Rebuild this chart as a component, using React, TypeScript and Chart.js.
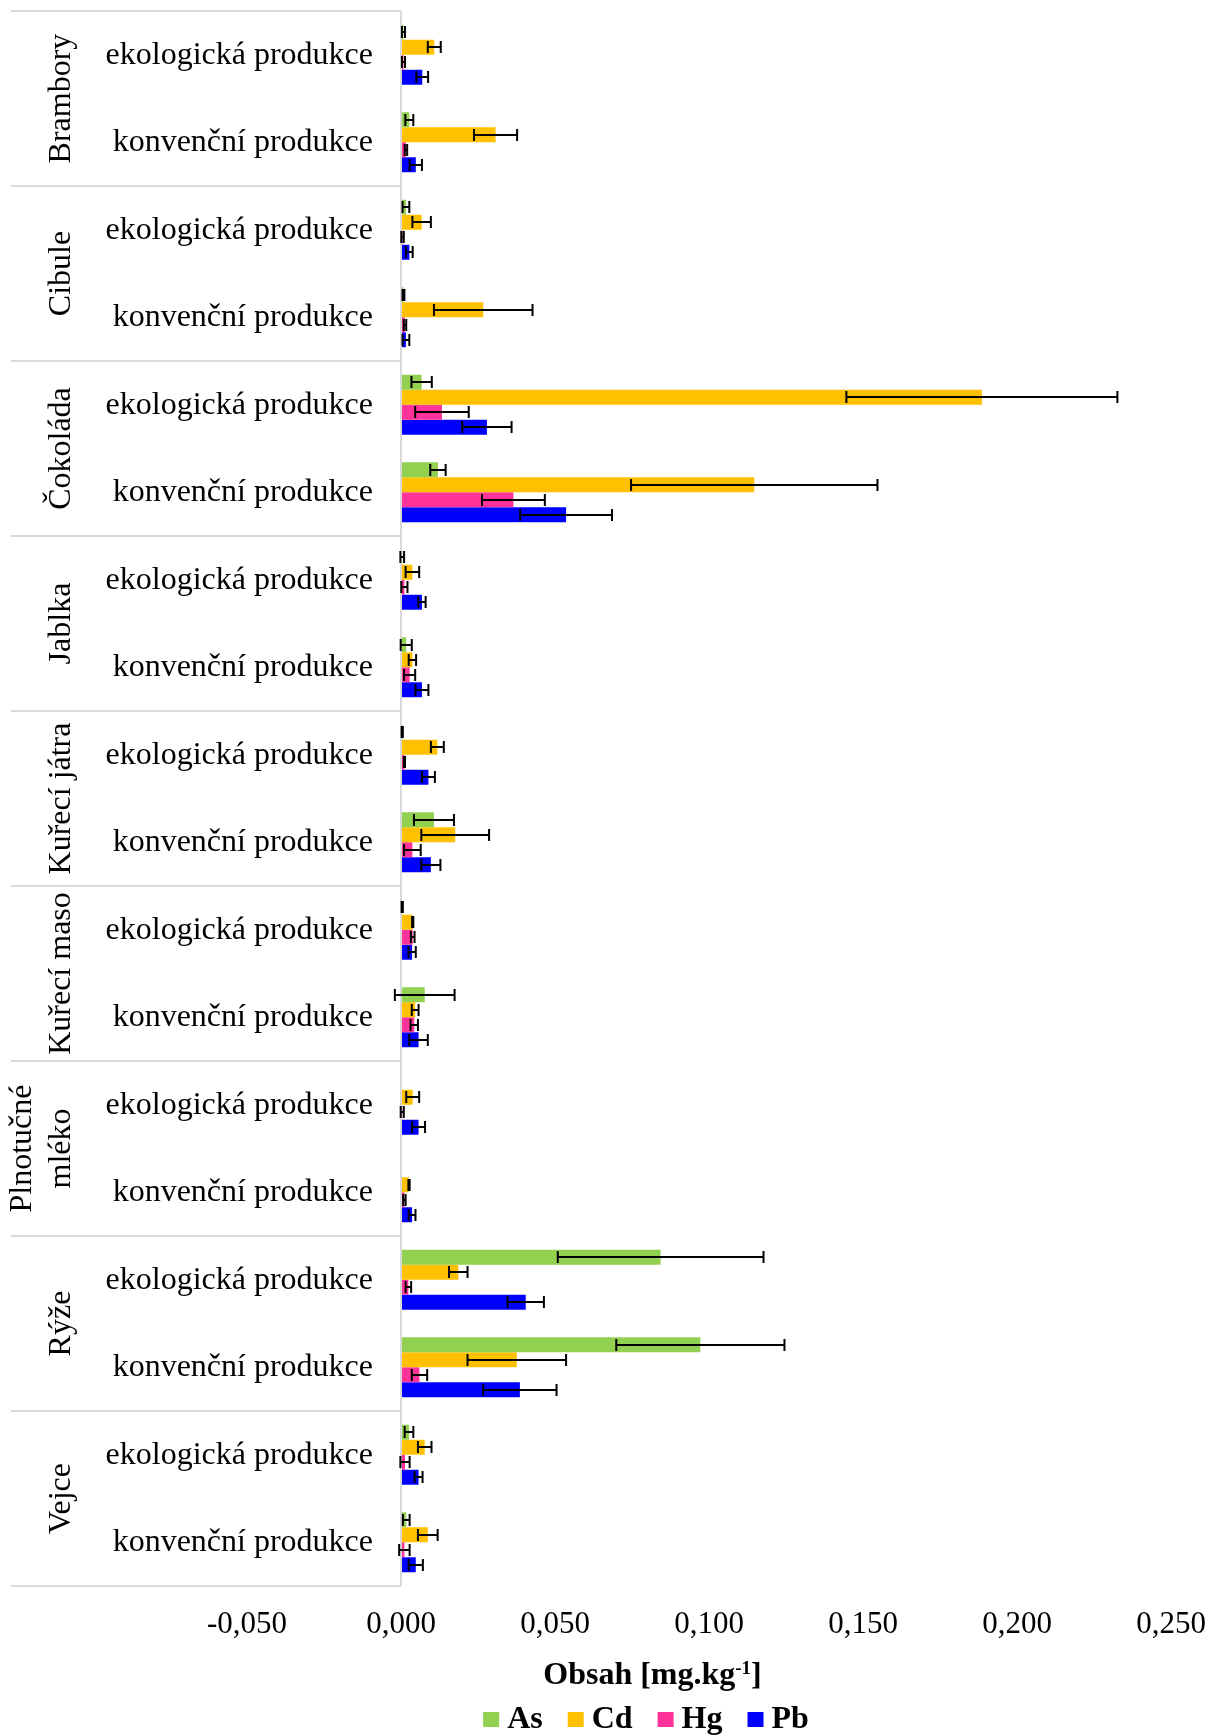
import React, { useEffect, useRef } from 'react';
import { Chart, registerables } from 'chart.js';

Chart.register(...registerables);

const FONT = '"Liberation Serif", "Times New Roman", serif';

// ---- data ----
const groups = ['Brambory', 'Cibule', 'Čokoláda', 'Jablka', 'Kuřecí játra', 'Kuřecí maso', 'Plnotučné mléko', 'Rýže', 'Vejce'];
const productionTypes = ['ekologická produkce', 'konvenční produkce'];
const seriesNames = ['As', 'Cd', 'Hg', 'Pb'];
const seriesColors = ['#92D050', '#FFC000', '#FF3399', '#0000FF'];
const tickValues = [-0.05, 0, 0.05, 0.1, 0.15, 0.2, 0.25];
const axisTitle = 'Obsah [mg.kg';
const axisTitleSup = '-1';
const axisTitleEnd = ']';

// order: each group -> [ekologická, konvenční]
const asValues = [0.0008, 0.0027, 0.0016, 0.0008, 0.0067, 0.0120, 0.0004, 0.0017, 0.0004, 0.0107, 0.0004, 0.0077, 0, 0, 0.0843, 0.0972, 0.0026, 0.0017];
const asErrors = [0.0005, 0.0013, 0.0011, 0.0003, 0.0033, 0.0025, 0.0006, 0.0018, 0.0002, 0.0065, 0.0002, 0.0097, 0, 0, 0.0334, 0.0273, 0.0014, 0.0011];
const cdValues = [0.0108, 0.0307, 0.0067, 0.0267, 0.1886, 0.1147, 0.0037, 0.0037, 0.0118, 0.0176, 0.0038, 0.0046, 0.0038, 0.0026, 0.0186, 0.0376, 0.0077, 0.0087];
const cdErrors = [0.0021, 0.0070, 0.0030, 0.0160, 0.0440, 0.0400, 0.0022, 0.0012, 0.0021, 0.0110, 0.0002, 0.0011, 0.0021, 0.0002, 0.0030, 0.0160, 0.0022, 0.0032];
const hgValues = [0.0008, 0.0016, 0.0005, 0.0013, 0.0133, 0.0365, 0.0011, 0.0028, 0.0011, 0.0037, 0.0038, 0.0043, 0.0004, 0.0011, 0.0024, 0.0060, 0.0013, 0.0011];
const hgErrors = [0.0005, 0.0004, 0.0004, 0.0004, 0.0087, 0.0102, 0.0010, 0.0018, 0.0002, 0.0027, 0.0006, 0.0012, 0.0005, 0.0004, 0.0009, 0.0025, 0.0015, 0.0017];
const pbValues = [0.0069, 0.0048, 0.0027, 0.0016, 0.0279, 0.0536, 0.0068, 0.0068, 0.0089, 0.0097, 0.0036, 0.0057, 0.0057, 0.0036, 0.0405, 0.0386, 0.0057, 0.0048];
const pbErrors = [0.0019, 0.0020, 0.0011, 0.0011, 0.0080, 0.0149, 0.0012, 0.0021, 0.0021, 0.0031, 0.0012, 0.0030, 0.0021, 0.0011, 0.0059, 0.0119, 0.0013, 0.0023];

const seriesValues = [asValues, cdValues, hgValues, pbValues];
const seriesErrors = [asErrors, cdErrors, hgErrors, pbErrors];

const categoryLabels: string[] = [];
groups.forEach((g) => productionTypes.forEach((p) => categoryLabels.push(g + ' – ' + p)));

const fmt = (v: number) => v.toFixed(3).replace('.', ',');

const overlayPlugin = {
  id: 'overlay',
  afterDatasetsDraw(chart: any) {
    const ctx = chart.ctx;
    const xs = chart.scales.x;
    ctx.save();
    ctx.strokeStyle = '#000';
    ctx.lineWidth = 2;
    chart.data.datasets.forEach((ds: any, i: number) => {
      const meta = chart.getDatasetMeta(i);
      meta.data.forEach((bar: any, j: number) => {
        const v = ds.data[j];
        const e = seriesErrors[i][j];
        if (!e) return;
        const y = Math.round(bar.y);
        const x1 = xs.getPixelForValue(v - e);
        const x2 = xs.getPixelForValue(v + e);
        ctx.beginPath();
        ctx.moveTo(x1, y);
        ctx.lineTo(x2, y);
        ctx.moveTo(x1, y - 6);
        ctx.lineTo(x1, y + 6);
        ctx.moveTo(x2, y - 6);
        ctx.lineTo(x2, y + 6);
        ctx.stroke();
      });
    });
    ctx.restore();
  },
  afterDraw(chart: any) {
    const ctx = chart.ctx;
    const xs = chart.scales.x;
    const ys = chart.scales.y;
    const area = chart.chartArea;
    const x0 = xs.getPixelForValue(0);
    const frameLeft = 11;
    ctx.save();

    // frame lines between groups
    ctx.strokeStyle = '#d9d9d9';
    ctx.lineWidth = 2;
    const nCat = categoryLabels.length;
    const step = (ys.getPixelForValue(nCat - 1) - ys.getPixelForValue(0)) / (nCat - 1);
    for (let g = 0; g <= groups.length; g++) {
      let y;
      if (g === 0) y = area.top;
      else if (g === groups.length) y = area.bottom;
      else y = (ys.getPixelForValue(g * 2 - 1) + ys.getPixelForValue(g * 2)) / 2;
      ctx.beginPath();
      ctx.moveTo(frameLeft, y);
      ctx.lineTo(x0, y);
      ctx.stroke();
    }

    // sub labels
    ctx.fillStyle = '#000';
    ctx.font = '32px ' + FONT;
    ctx.textAlign = 'right';
    ctx.textBaseline = 'alphabetic';
    for (let i = 0; i < nCat; i++) {
      const y = ys.getPixelForValue(i);
      ctx.fillText(productionTypes[i % 2], 373, y + 9);
    }

    // group labels (rotated)
    const groupHeight = step * 2;
    groups.forEach((g, gi) => {
      const cy = (ys.getPixelForValue(gi * 2) + ys.getPixelForValue(gi * 2 + 1)) / 2;
      let lines = [g];
      if (ctx.measureText(g).width > groupHeight && g.indexOf(' ') > 0) {
        lines = g.split(' ');
      }
      ctx.save();
      ctx.translate(70, cy);
      ctx.rotate(-Math.PI / 2);
      ctx.textAlign = 'center';
      ctx.textBaseline = 'alphabetic';
      const lh = 39;
      lines.forEach((ln, li) => {
        ctx.fillText(ln, 0, -(lines.length - 1 - li) * lh);
      });
      ctx.restore();
    });

    // axis title with superscript
    const bigFont = 'bold 32px ' + FONT;
    const supFont = 'bold 19px ' + FONT;
    ctx.font = bigFont;
    const w1 = ctx.measureText(axisTitle).width;
    const w3 = ctx.measureText(axisTitleEnd).width;
    ctx.font = supFont;
    const w2 = ctx.measureText(axisTitleSup).width;
    const total = w1 + w2 + w3;
    let tx = 652.5 - total / 2;
    const tb = 1684;
    ctx.textAlign = 'left';
    ctx.font = bigFont;
    ctx.fillText(axisTitle, tx, tb);
    tx += w1;
    ctx.font = supFont;
    ctx.fillText(axisTitleSup, tx, tb - 10);
    tx += w2;
    ctx.font = bigFont;
    ctx.fillText(axisTitleEnd, tx, tb);

    // legend
    ctx.font = bigFont;
    const box = 16;
    const gap = 8;
    const spacing = 25;
    const widths = chart.data.datasets.map((ds: any) => ctx.measureText(ds.label).width);
    const legW = widths.reduce((a: number, w: number) => a + box + gap + w, 0) + spacing * (widths.length - 1);
    let lx = 646 - legW / 2;
    const lb = 1728;
    chart.data.datasets.forEach((ds: any, i: number) => {
      ctx.fillStyle = ds.backgroundColor;
      ctx.fillRect(lx, 1712, box, 15);
      ctx.fillStyle = '#000';
      ctx.fillText(ds.label, lx + box + gap, lb);
      lx += box + gap + widths[i] + spacing;
    });

    ctx.restore();
  },
};

export default function App() {
  const ref = useRef<HTMLCanvasElement | null>(null);
  useEffect(() => {
    if (!ref.current) return;
    const chart = new Chart(ref.current, {
      type: 'bar',
      data: {
        labels: categoryLabels,
        datasets: seriesNames.map((name, i) => ({
          label: name,
          data: seriesValues[i],
          backgroundColor: seriesColors[i],
          borderWidth: 0,
        })),
      },
      options: {
        indexAxis: 'y',
        responsive: false,
        animation: false,
        devicePixelRatio: 1,
        layout: { padding: { left: 247, right: 39, top: 11, bottom: 0 } },
        datasets: { bar: { categoryPercentage: 60 / 87.5, barPercentage: 1 } },
        plugins: { legend: { display: false }, tooltip: { enabled: false } },
        scales: {
          x: {
            type: 'linear',
            min: -0.05,
            max: 0.25,
            afterBuildTicks: (scale: any) => {
              scale.ticks = tickValues.map((v) => ({ value: v }));
            },
            afterFit: (scale: any) => {
              scale.height = 150;
            },
            ticks: {
              color: '#000',
              padding: 0,
              maxRotation: 0,
              autoSkip: false,
              font: { family: FONT, size: 31, lineHeight: 77 / 31 },
              callback: (v: any) => fmt(Number(v)),
            },
            grid: {
              drawTicks: false,
              lineWidth: 2,
              color: (c: any) => (c.tick && Math.abs(c.tick.value) < 1e-9 ? '#d9d9d9' : 'rgba(0,0,0,0)'),
            },
            border: { display: false },
          },
          y: {
            type: 'category',
            display: false,
            offset: true,
            grid: { display: false },
          },
        },
      } as any,
      plugins: [overlayPlugin],
    });
    return () => chart.destroy();
  }, []);
  return (
    <div style={{ position: 'fixed', left: 0, top: 0, width: 1210, height: 1736, background: '#fff' }}>
      <canvas ref={ref} width={1210} height={1736} style={{ display: 'block', width: 1210, height: 1736 }} />
    </div>
  );
}
